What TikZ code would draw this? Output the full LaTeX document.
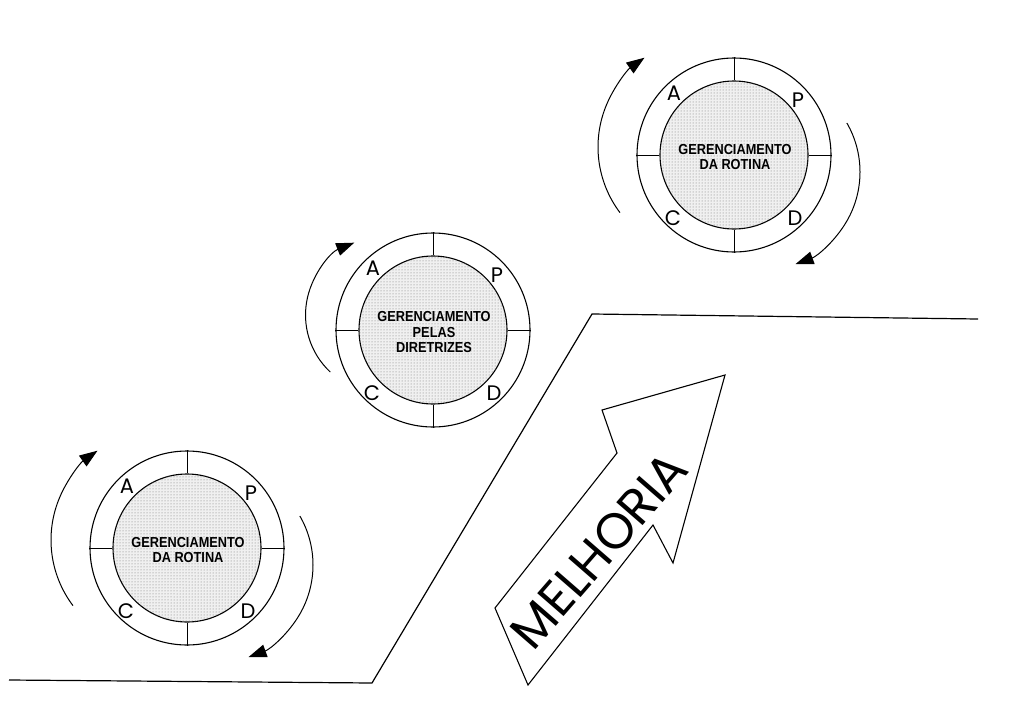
\documentclass[tikz,border=0pt]{standalone}
\usepackage{fontspec}
\setmainfont{Liberation Sans}
\newfontfamily\geofont{Poppins}
\usetikzlibrary{arrows.meta,patterns}

\tikzset{
  ring/.style={circle, draw, line width=1.1pt, minimum size=194pt, inner sep=0pt},
  hub/.style={circle, draw, line width=1.1pt, minimum size=148pt, inner sep=0pt,
    fill=black!6, postaction={pattern=dots, pattern color=black!55}},
  spoke/.style={line width=1pt},
  phase/.style={font=\geofont\fontsize{21}{21}\selectfont, inner sep=0pt},
  hubtext/.style={font=\bfseries\fontsize{14.5}{15.5}\selectfont, align=center, inner sep=0pt},
  turn/.style={line width=1pt, -{Triangle[length=18pt,width=13pt]}},
  track/.style={line width=1.2pt, line join=miter},
  bigarrow/.style={line width=1.1pt, line join=miter, fill=white},
  bigtext/.style={font=\geofont\fontsize{50}{50}\selectfont, inner sep=0pt},
}

% one PDCA wheel: name, centre x, centre y, label
\newcommand{\pdcawheel}[4]{%
  \node[ring] (#1-ring) at (#2,#3) {};
  \node[hub]  (#1-hub)  at (#2,#3) {};
  \draw[spoke] (#1-ring.north) -- (#1-hub.north);
  \draw[spoke] (#1-ring.south) -- (#1-hub.south);
  \draw[spoke] (#1-ring.west)  -- (#1-hub.west);
  \draw[spoke] (#1-ring.east)  -- (#1-hub.east);
  \node[phase] (#1-A) at ([shift={(-60,62)}]#1-hub.center) {A};
  \node[phase] (#1-P) at ([shift={(64,55)}]#1-hub.center) {P};
  \node[phase] (#1-C) at ([shift={(-61,-63)}]#1-hub.center) {C};
  \node[phase] (#1-D) at ([shift={(61,-63)}]#1-hub.center) {D};
  \node[hubtext] (#1-text) at ([shift={(1,-4)}]#1-hub.center)
    {\scalebox{0.88}[1]{\begin{tabular}{@{}c@{}}#4\end{tabular}}};
}

\begin{document}
\begin{tikzpicture}[x=1pt, y=1pt]
\useasboundingbox (0,0) rectangle (1020,-720);

% the improvement track
\coordinate (t0) at (9,-680);
\coordinate (t1) at (372,-683);
\coordinate (t2) at (592,-314);
\coordinate (t3) at (978,-319);
\draw[track] (t0) -- (t1) -- (t2) -- (t3);

% the three wheels
\pdcawheel{w1}{187}{-548}{GERENCIAMENTO\\DA ROTINA}
\pdcawheel{w2}{433}{-330}{GERENCIAMENTO\\PELAS\\DIRETRIZES}
\pdcawheel{w3}{734}{-155}{GERENCIAMENTO\\DA ROTINA}

% turning arrows around the wheels
\coordinate (w1-lc) at (160,-540);
\coordinate (w1-rc) at (215,-565);
\coordinate (w2-lc) at (383.5,-315);
\coordinate (w3-lc) at (707,-147);
\coordinate (w3-rc) at (762,-172);
\draw[turn] ([shift={(217:109)}]w1-lc) arc[start angle=217, end angle=125, radius=109];
\draw[turn] ([shift={(30:98)}]w1-rc) arc[start angle=30, end angle=-70, radius=98];
\draw[turn] ([shift={(227:78)}]w2-lc) arc[start angle=227, end angle=112, radius=78];
\draw[turn] ([shift={(217:109)}]w3-lc) arc[start angle=217, end angle=125, radius=109];
\draw[turn] ([shift={(30:98)}]w3-rc) arc[start angle=30, end angle=-70, radius=98];

% MELHORIA block arrow
\draw[bigarrow] (495,-608) -- (617,-453) -- (602,-410) -- (725,-375)
  -- (673,-563) -- (653,-525) -- (528,-685) -- cycle;
\node[bigtext, rotate=49] (melhoria) at (599,-550) {MELHORIA};
\end{tikzpicture}
\end{document}
